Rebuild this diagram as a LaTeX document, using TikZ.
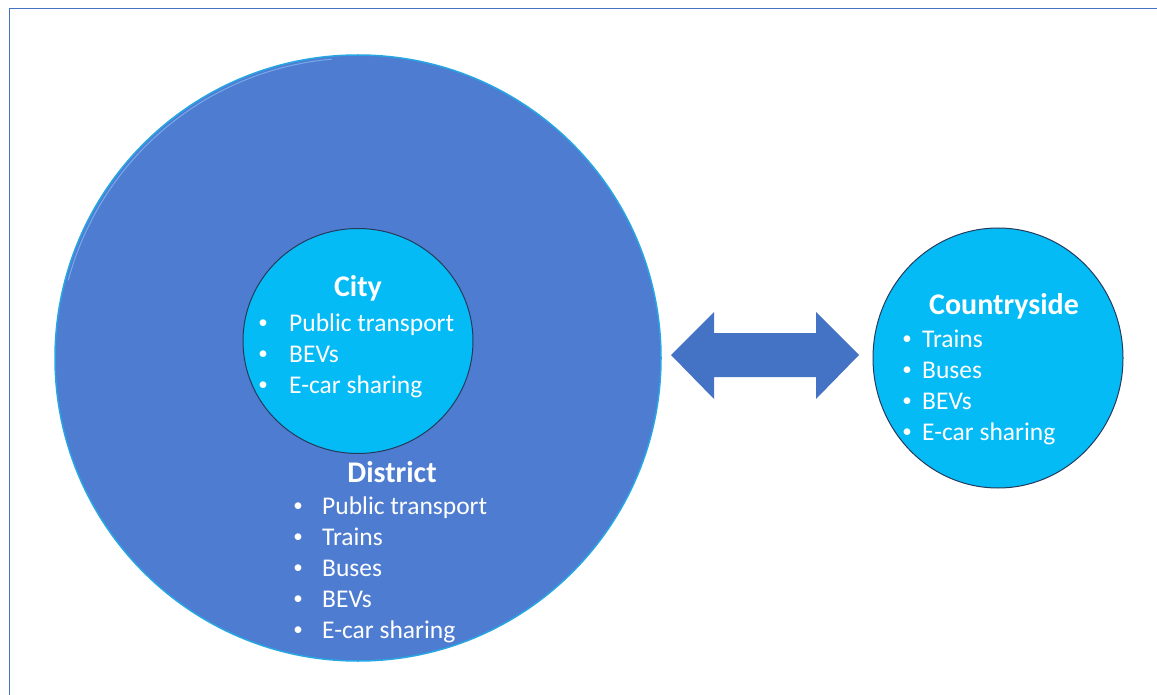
\documentclass[tikz,border=0pt]{standalone}
\usepackage{fontspec}
\setmainfont{Carlito}
\usepackage{xcolor}
\usepackage{tikz}
\usetikzlibrary{shapes.geometric}
\pgfdeclarelayer{nodelayer}
\pgfdeclarelayer{edgelayer}
\pgfsetlayers{nodelayer,edgelayer,main}
\definecolor{districtblue}{RGB}{78,124,208}
\definecolor{rimcyan}{RGB}{40,166,228}
\definecolor{rimlight}{RGB}{120,170,235}
\definecolor{cityblue}{RGB}{4,187,246}
\definecolor{rimdark}{RGB}{38,58,92}
\definecolor{arrowblue}{RGB}{68,114,196}
\tikzset{
  title/.style={anchor=base, text=white, inner sep=0, font=\fontsize{30}{36}\selectfont\bfseries},
  item/.style={anchor=base west, text=white, inner sep=0, font=\fontsize{25.5}{31}\selectfont},
  dot/.style={anchor=base, text=white, inner sep=0, yshift=2.5pt, font=\fontsize{19}{31}\selectfont}
}

\begin{document}
\begin{tikzpicture}[x=1pt, y=-1pt]
  \useasboundingbox (0, 0) rectangle (1157, 695);
  \draw [arrowblue, line width=1.6pt] (1170, 8.5) -- (9.5, 8.5) -- (9.5, 710);
  \begin{pgfonlayer}{nodelayer}
    \node [circle, fill=districtblue, draw=rimcyan, line width=1.5pt, minimum size=606pt, inner sep=0] (0) at (358, 358) {};
    \draw [rimlight, line width=1pt] (0.center) ++(-95:300) arc (-95:-165:300);
    \node [ellipse, fill=cityblue, draw=rimdark, line width=1pt, minimum width=230pt, minimum height=225pt, inner sep=0] (1) at (358, 341) {};
    \node [ellipse, fill=cityblue, draw=rimdark, line width=1pt, minimum width=250pt, minimum height=260pt, inner sep=0] (2) at (998, 358) {};
  \end{pgfonlayer}
  \begin{pgfonlayer}{edgelayer}
    \fill [arrowblue] (671, 355) -- (714, 312) -- (714, 333) -- (816, 333) -- (816, 312)
      -- (859, 355) -- (816, 399) -- (816, 377) -- (714, 377) -- (714, 399) -- cycle;
  \end{pgfonlayer}
  % city
  \node [title] (3) at (358, 297) {City};
  \node [dot] (4) at (263, 331) {\textbullet};
  \node [item] (5) at (289, 331) {Public transport};
  \node [dot] (6) at (263, 362) {\textbullet};
  \node [item] (7) at (289, 362) {BEVs};
  \node [dot] (8) at (263, 393) {\textbullet};
  \node [item] (9) at (289, 393) {E-car sharing};
  % district
  \node [title] (10) at (392, 482) {District};
  \node [dot] (11) at (298, 514) {\textbullet};
  \node [item] (12) at (322, 514) {Public transport};
  \node [dot] (13) at (298, 545) {\textbullet};
  \node [item] (14) at (322, 545) {Trains};
  \node [dot] (15) at (298, 576) {\textbullet};
  \node [item] (16) at (322, 576) {Buses};
  \node [dot] (17) at (298, 607) {\textbullet};
  \node [item] (18) at (322, 607) {BEVs};
  \node [dot] (19) at (298, 638) {\textbullet};
  \node [item] (20) at (322, 638) {E-car sharing};
  % countryside
  \node [title] (21) at (1004, 314) {Countryside};
  \node [dot] (22) at (907, 347) {\textbullet};
  \node [item] (23) at (922, 347) {Trains};
  \node [dot] (24) at (907, 378) {\textbullet};
  \node [item] (25) at (922, 378) {Buses};
  \node [dot] (26) at (907, 409) {\textbullet};
  \node [item] (27) at (922, 409) {BEVs};
  \node [dot] (28) at (907, 440) {\textbullet};
  \node [item] (29) at (922, 440) {E-car sharing};
\end{tikzpicture}
\end{document}
